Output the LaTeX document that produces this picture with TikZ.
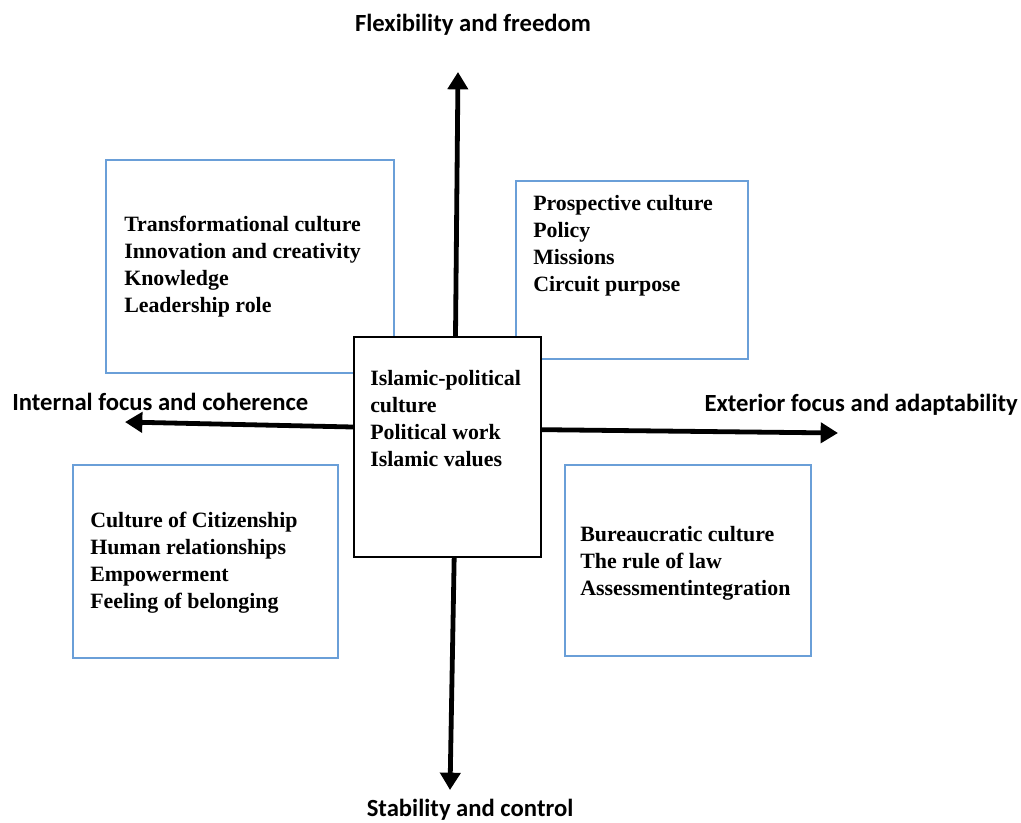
\documentclass[tikz,border=0pt]{standalone}
\usepackage{fontspec}
\setmainfont{Liberation Serif}
\newfontfamily\axisfont{Carlito}
\usepackage{xcolor}
\usetikzlibrary{arrows.meta, positioning}

\definecolor{boxblue}{HTML}{6A9FD8}

\begin{document}
\begin{tikzpicture}[x=0.75pt, y=-0.75pt,
        quad/.style={draw=boxblue, line width=1.4pt, rectangle, inner sep=0pt, anchor=north west},
        hub/.style={draw=black, line width=1.5pt, rectangle, inner sep=0pt, anchor=north west},
        item/.style={anchor=north west, inner sep=0pt, align=left,
            font=\fontsize{16.4pt}{20.25pt}\selectfont\bfseries},
        axis/.style={anchor=base, inner sep=0pt, font=\axisfont\fontsize{18.5pt}{20pt}\selectfont\bfseries},
        axisarrow/.style={line width=3.6pt, -{Triangle[width=15pt, length=13pt]}}]
        \useasboundingbox (0, 0) rectangle (1021, 822);

        \node[quad, minimum width=288*0.75pt, minimum height=213*0.75pt] (tl) at (105, 159) {};
        \node[quad, minimum width=232*0.75pt, minimum height=178*0.75pt] (tr) at (515, 180) {};
        \node[quad, minimum width=265*0.75pt, minimum height=193*0.75pt] (bl) at (72, 464) {};
        \node[quad, minimum width=246*0.75pt, minimum height=191*0.75pt] (br) at (564, 464) {};
        \node[hub, fill=white, minimum width=187*0.75pt, minimum height=220*0.75pt] (center) at (353, 336) {};

        \node[item] (tlText) at (124, 216) {Transformational culture\\Innovation and creativity\\Knowledge\\Leadership role};
        \node[item] (trText) at (533, 195) {Prospective culture\\Policy\\Missions\\Circuit purpose};
        \node[item] (blText) at (90, 512) {Culture of Citizenship\\Human relationships\\Empowerment\\Feeling of belonging};
        \node[item] (brText) at (580, 526) {Bureaucratic culture\\The rule of law\\Assessmentintegration};
        \node[item] (centerText) at (370, 370) {Islamic-political\\culture\\Political work\\Islamic values};

        \coordinate (up) at (458, 72);
        \coordinate (down) at (450, 790);
        \coordinate (left) at (125, 422);
        \coordinate (right) at (838, 433);

        \draw[axisarrow] ([xshift=6pt]center.north) -- (up);
        \draw[axisarrow] ([xshift=5pt]center.south) -- (down);
        \draw[axisarrow] ([yshift=15pt]center.west) -- (left);
        \draw[axisarrow] ([yshift=13pt]center.east) -- (right);

        \node[axis] (flex) at (473, 31) {Flexibility and freedom};
        \node[axis] (stab) at (470, 816) {Stability and control};
        \node[axis, anchor=base west] (internal) at (12, 410) {Internal focus and coherence};
        \node[axis, anchor=base east] (exterior) at (1018, 411) {Exterior focus and adaptability};
    \end{tikzpicture}
\end{document}
